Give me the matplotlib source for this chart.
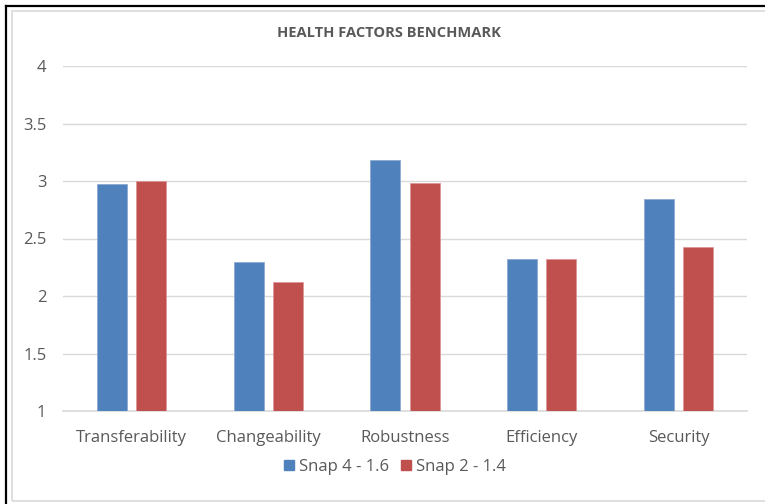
import numpy as np
import matplotlib
matplotlib.use("Agg")
import matplotlib.pyplot as plt
from matplotlib.patches import Rectangle
from matplotlib.lines import Line2D

categories = ["Transferability", "Changeability", "Robustness", "Efficiency", "Security"]
snap4 = [2.97, 2.30, 3.18, 2.32, 2.84]
snap2 = [3.00, 2.12, 2.98, 2.32, 2.43]
series_names = ["Snap 4 - 1.6", "Snap 2 - 1.4"]
yticks = [1, 1.5, 2, 2.5, 3, 3.5, 4]
ytick_labels = ["1", "1.5", "2", "2.5", "3", "3.5", "4"]

blue = "#4F81BD"
red = "#C0504D"
text_col = "#595959"

plt.rcParams['font.family'] = ['Open Sans', 'DejaVu Sans']

fig = plt.figure(figsize=(7.65, 5.04), dpi=100)

# screenshot frame: black on top/left, light gray inner border
fig.add_artist(Line2D([5.5 / 765, 5.5 / 765], [0, 1 - 5.5 / 504], color="black", lw=1.6, transform=fig.transFigure))
fig.add_artist(Line2D([5.5 / 765, 1], [1 - 5.5 / 504, 1 - 5.5 / 504], color="black", lw=1.6, transform=fig.transFigure))
fig.add_artist(Rectangle((12 / 765, 3 / 504), 1.0, 1 - 14 / 504, fill=False,
                         edgecolor="#D9D9D9", lw=1.2, transform=fig.transFigure))

ax = fig.add_axes([63 / 765, 1 - 411 / 504, 684 / 765, 345 / 504])

x = np.arange(len(categories))
w = 0.22
off = 0.143
ax.bar(x - off, np.array(snap4) - 1, w, bottom=1, color=blue, edgecolor="#8FAAD3", lw=0.6, zorder=3)
ax.bar(x + off, np.array(snap2) - 1, w, bottom=1, color=red, edgecolor="#DC9795", lw=0.6, zorder=3)

ax.set_xlim(-0.5, len(categories) - 0.5)
ax.set_ylim(1, 4)
ax.set_yticks(yticks)
ax.set_yticklabels(ytick_labels)
ax.set_xticks(x)
ax.set_xticklabels(categories)
ax.grid(axis="y", color="#D9D9D9", lw=1.0, zorder=0)
ax.set_axisbelow(True)
for s in ax.spines.values():
    s.set_visible(False)
ax.tick_params(axis="both", length=0, colors=text_col, labelsize=12)
ax.tick_params(axis="y", pad=12)
ax.tick_params(axis="x", pad=14)
ax.axhline(1, color="#D9D9D9", lw=1.2, zorder=1, clip_on=False)

fig.text(389 / 765, 1 - 33 / 504, "HEALTH FACTORS BENCHMARK", ha="center", va="center",
         fontsize=10.5, fontweight="bold", color=text_col)

handles = [Rectangle((0, 0), 1, 1, color=blue), Rectangle((0, 0), 1, 1, color=red)]
fig.legend(handles, series_names, loc="center", bbox_to_anchor=(395 / 765, 1 - 467 / 504),
           ncol=2, frameon=False, fontsize=12, handlelength=0.6, handleheight=0.6,
           handletextpad=0.3, columnspacing=0.7, labelcolor=text_col)

fig.savefig("out.png", dpi=100)
